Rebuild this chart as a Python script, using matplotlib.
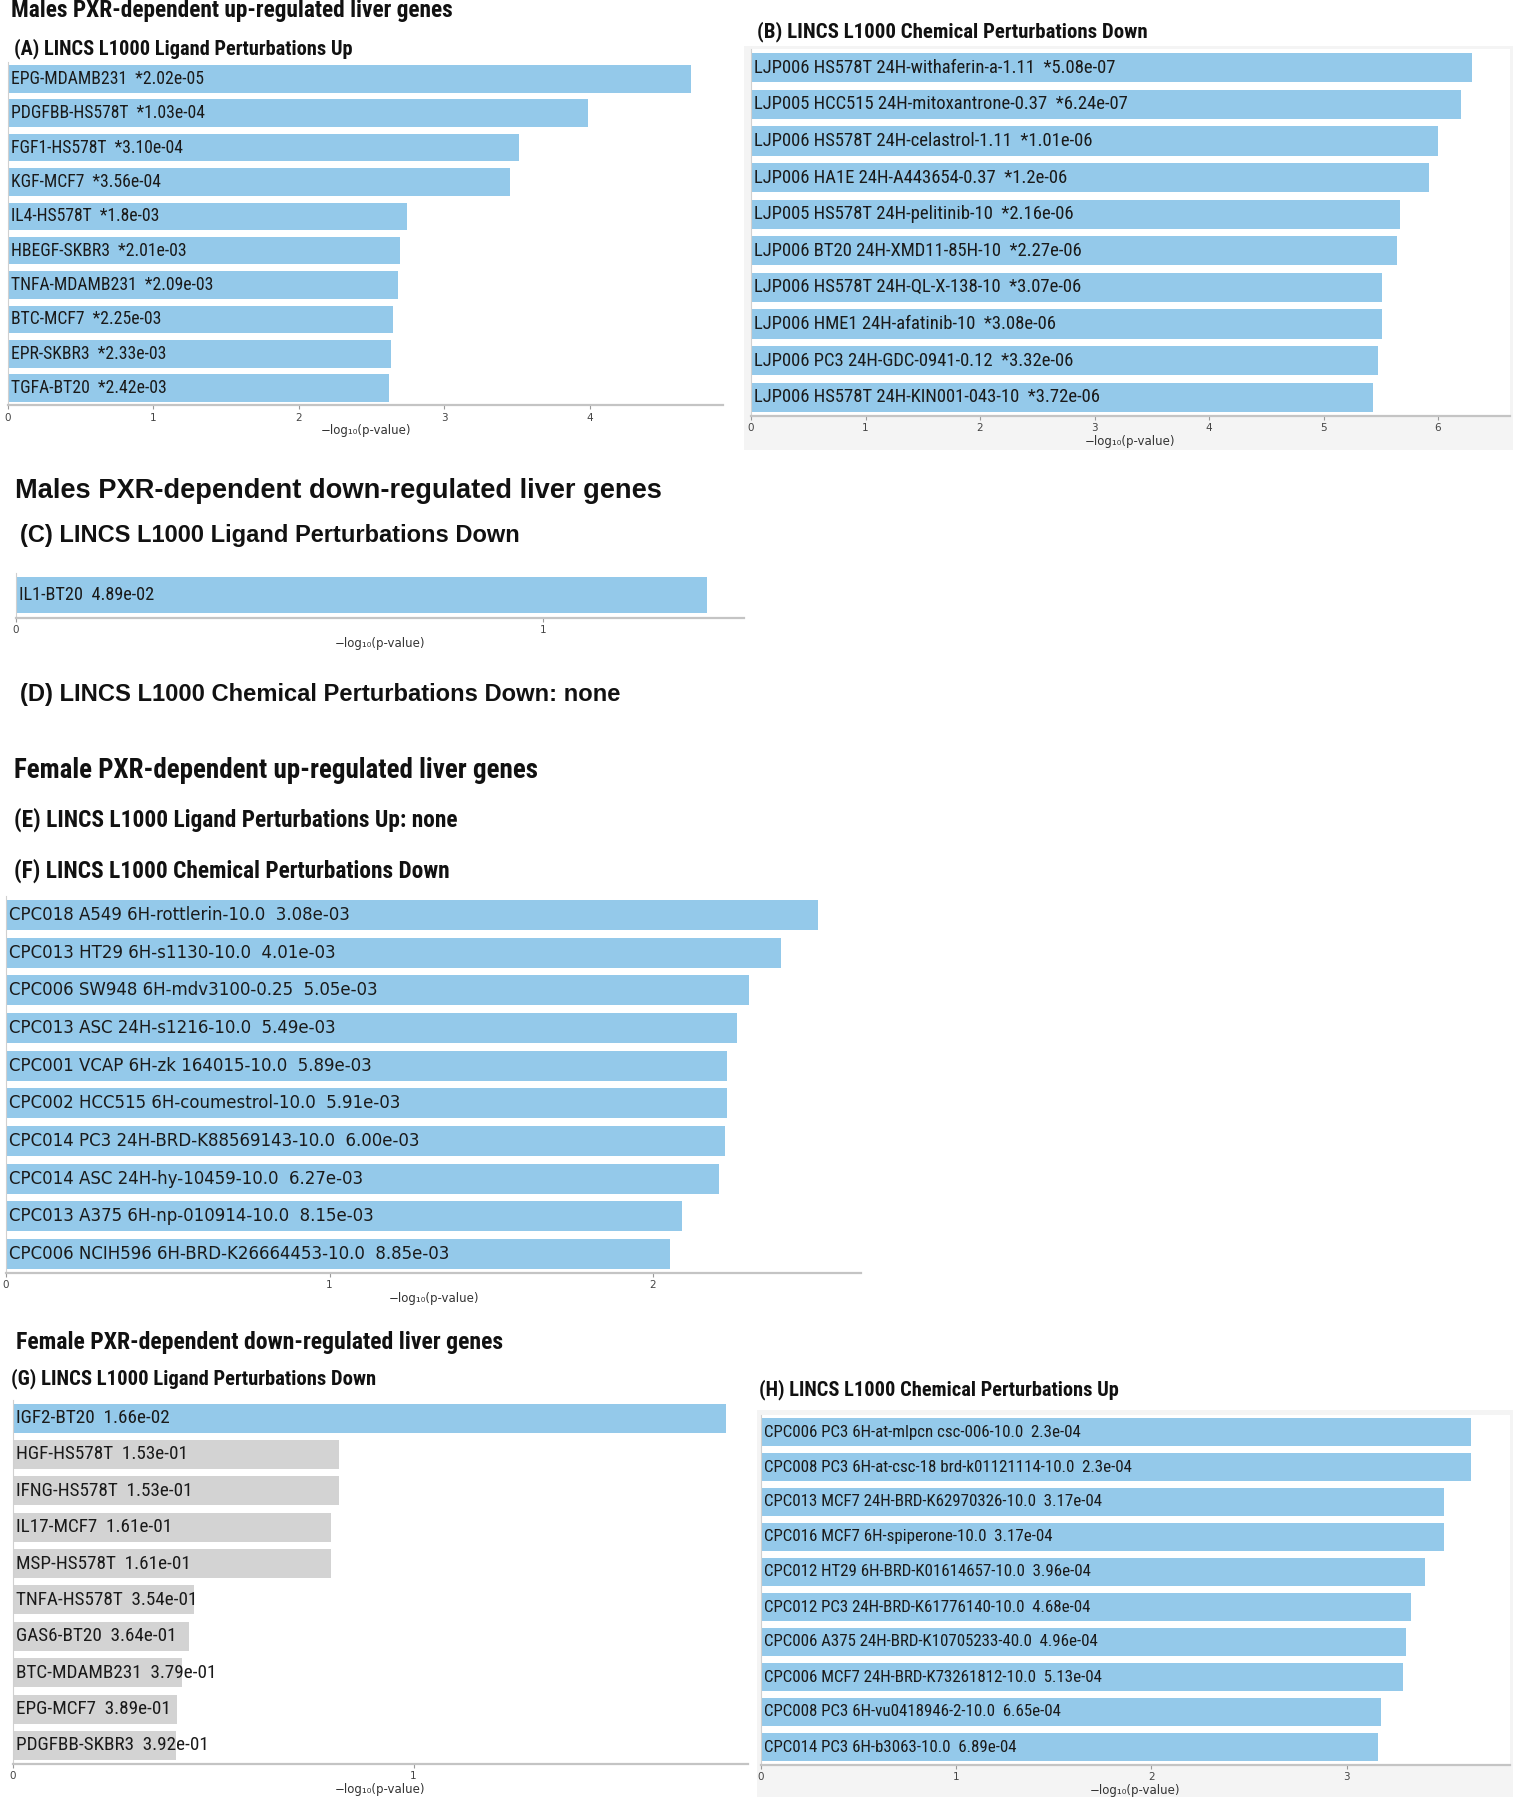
import matplotlib
matplotlib.use("Agg")
import matplotlib.pyplot as plt
from matplotlib import font_manager as fm
from matplotlib.patches import Rectangle

# ---------------- data ----------------
A_terms = ['EPG-MDAMB231', 'PDGFBB-HS578T', 'FGF1-HS578T', 'KGF-MCF7', 'IL4-HS578T',
           'HBEGF-SKBR3', 'TNFA-MDAMB231', 'BTC-MCF7', 'EPR-SKBR3', 'TGFA-BT20']
A_pvals = ['*2.02e-05', '*1.03e-04', '*3.10e-04', '*3.56e-04', '*1.8e-03',
           '*2.01e-03', '*2.09e-03', '*2.25e-03', '*2.33e-03', '*2.42e-03']
A_scores = [4.695, 3.987, 3.509, 3.449, 2.745, 2.697, 2.680, 2.648, 2.633, 2.616]

B_terms = ['LJP006 HS578T 24H-withaferin-a-1.11', 'LJP005 HCC515 24H-mitoxantrone-0.37',
           'LJP006 HS578T 24H-celastrol-1.11', 'LJP006 HA1E 24H-A443654-0.37',
           'LJP005 HS578T 24H-pelitinib-10', 'LJP006 BT20 24H-XMD11-85H-10',
           'LJP006 HS578T 24H-QL-X-138-10', 'LJP006 HME1 24H-afatinib-10',
           'LJP006 PC3 24H-GDC-0941-0.12', 'LJP006 HS578T 24H-KIN001-043-10']
B_pvals = ['*5.08e-07', '*6.24e-07', '*1.01e-06', '*1.2e-06', '*2.16e-06',
           '*2.27e-06', '*3.07e-06', '*3.08e-06', '*3.32e-06', '*3.72e-06']
B_scores = [6.294, 6.205, 5.996, 5.921, 5.666, 5.644, 5.513, 5.511, 5.479, 5.430]

C_terms = ['IL1-BT20']
C_pvals = ['4.89e-02']
C_scores = [1.311]

F_terms = ['CPC018 A549 6H-rottlerin-10.0', 'CPC013 HT29 6H-s1130-10.0',
           'CPC006 SW948 6H-mdv3100-0.25', 'CPC013 ASC 24H-s1216-10.0',
           'CPC001 VCAP 6H-zk 164015-10.0', 'CPC002 HCC515 6H-coumestrol-10.0',
           'CPC014 PC3 24H-BRD-K88569143-10.0', 'CPC014 ASC 24H-hy-10459-10.0',
           'CPC013 A375 6H-np-010914-10.0', 'CPC006 NCIH596 6H-BRD-K26664453-10.0']
F_pvals = ['3.08e-03', '4.01e-03', '5.05e-03', '5.49e-03', '5.89e-03',
           '5.91e-03', '6.00e-03', '6.27e-03', '8.15e-03', '8.85e-03']
F_scores = [2.511, 2.397, 2.297, 2.260, 2.230, 2.228, 2.222, 2.203, 2.089, 2.053]

G_terms = ['IGF2-BT20', 'HGF-HS578T', 'IFNG-HS578T', 'IL17-MCF7', 'MSP-HS578T',
           'TNFA-HS578T', 'GAS6-BT20', 'BTC-MDAMB231', 'EPG-MCF7', 'PDGFBB-SKBR3']
G_pvals = ['1.66e-02', '1.53e-01', '1.53e-01', '1.61e-01', '1.61e-01',
           '3.54e-01', '3.64e-01', '3.79e-01', '3.89e-01', '3.92e-01']
G_scores = [1.780, 0.815, 0.815, 0.793, 0.793, 0.451, 0.439, 0.421, 0.410, 0.407]
G_significant = [True, False, False, False, False, False, False, False, False, False]

H_terms = ['CPC006 PC3 6H-at-mlpcn csc-006-10.0', 'CPC008 PC3 6H-at-csc-18 brd-k01121114-10.0',
           'CPC013 MCF7 24H-BRD-K62970326-10.0', 'CPC016 MCF7 6H-spiperone-10.0',
           'CPC012 HT29 6H-BRD-K01614657-10.0', 'CPC012 PC3 24H-BRD-K61776140-10.0',
           'CPC006 A375 24H-BRD-K10705233-40.0', 'CPC006 MCF7 24H-BRD-K73261812-10.0',
           'CPC008 PC3 6H-vu0418946-2-10.0', 'CPC014 PC3 6H-b3063-10.0']
H_pvals = ['2.3e-04', '2.3e-04', '3.17e-04', '3.17e-04', '3.96e-04',
           '4.68e-04', '4.96e-04', '5.13e-04', '6.65e-04', '6.89e-04']
H_scores = [3.638, 3.638, 3.499, 3.499, 3.402, 3.330, 3.305, 3.290, 3.177, 3.162]

XLABEL = '\u2212log\u2081\u2080(p-value)'

# ---------------- fonts ----------------
names = {f.name for f in fm.fontManager.ttflist}


def condensed_props():
    for nm in ['DejaVu Sans Condensed', 'Liberation Sans Narrow', 'Roboto Condensed',
               'Open Sans Condensed']:
        if nm in names:
            return dict(family=[nm, 'DejaVu Sans'])
    dv = [f for f in fm.fontManager.ttflist
          if f.name == 'DejaVu Sans' and 'condensed' in str(f.stretch)]
    if dv:
        return dict(family=['DejaVu Sans'], fontstretch='condensed')
    return dict(family=['DejaVu Sans'])


def narrow_bold_props():
    for nm in ['Liberation Sans Narrow', 'Roboto Condensed', 'DejaVu Sans Condensed',
               'Open Sans Condensed']:
        if nm in names:
            return dict(family=[nm, 'DejaVu Sans'])
    return condensed_props()


COND = condensed_props()
NARROW = narrow_bold_props()
WIDE_BOLD = dict(family=['Liberation Sans', 'DejaVu Sans'])
REG = dict(family=['DejaVu Sans'])

W, H = 1516, 1800
fig = plt.figure(figsize=(W / 100, H / 100), dpi=100)
fig.patch.set_facecolor('white')
renderer = fig.canvas.get_renderer()


def fit_text(x, y, s, target_w, props, weight='normal', color='#111111'):
    t = fig.text(x / W, 1 - y / H, s, ha='left', va='center', fontsize=10,
                 fontweight=weight, color=color, **props)
    w = t.get_window_extent(renderer).width
    t.set_fontsize(10 * target_w / w)
    return t


def fit_size(s, target_w, props):
    t = fig.text(0, 0, s, fontsize=10, **props)
    w = t.get_window_extent(renderer).width
    t.remove()
    return 10 * target_w / w


def gray_box(x1, y1, x2, y2):
    bg = fig.add_axes([x1 / W, 1 - y2 / H, (x2 - x1) / W, (y2 - y1) / H], zorder=-5)
    bg.set_facecolor('#f4f4f4')
    for sp in bg.spines.values():
        sp.set_visible(False)
    bg.set_xticks([])
    bg.set_yticks([])
    return bg


def panel(terms, pvals, scores, x0, ppu, right, first_top, last_bottom,
          ticks, label_w, label_props, colors=None, tick_y_pad=2.5):
    n = len(terms)
    p = (last_bottom - first_top) / (n - 1 + 0.8)
    top = first_top - 0.1 * p
    bottom = top + n * p
    ax = fig.add_axes([x0 / W, 1 - bottom / H, (right - x0) / W, (bottom - top) / H],
                      zorder=1)
    ax.set_facecolor('white')
    if colors is None:
        colors = ['#94c9ea'] * n
    ypos = list(range(n))
    ax.barh(ypos, scores, height=0.8, color=colors, edgecolor='none', zorder=2)
    ax.set_xlim(0, (right - x0) / ppu)
    ax.set_ylim(n - 0.5, -0.5)
    ax.set_yticks([])
    ax.set_xticks(ticks)
    ax.set_xticklabels([str(t) for t in ticks])
    for sp in ['top', 'right']:
        ax.spines[sp].set_visible(False)
    ax.spines['bottom'].set_color('#c4c4c4')
    ax.spines['bottom'].set_linewidth(1.6)
    ax.spines['left'].set_color('#d0d0d0')
    ax.spines['left'].set_linewidth(0.8)
    ax.tick_params(axis='x', length=3, width=0.8, color='#999999', pad=tick_y_pad,
                   labelsize=7.5, labelcolor='#444444')
    ax.set_xlabel(XLABEL, fontsize=8.5, color='#333333', labelpad=1)
    fs = fit_size(terms[0] + '  ' + pvals[0], label_w, label_props)
    for i, (tm, pv) in enumerate(zip(terms, pvals)):
        ax.text(3 / ppu, i, tm + '  ' + pv, ha='left', va='center', fontsize=fs,
                color='#1a1a1a', zorder=3, **label_props)
    return ax


# ---------------- gray backgrounds for B and H ----------------
gray_box(744, 46, 1513, 450)
gray_box(757, 1410, 1513, 1797)

# ---------------- titles ----------------
fit_text(11, 10, 'Males PXR-dependent up-regulated liver genes', 443, NARROW, 'bold')
fit_text(14, 49, '(A) LINCS L1000 Ligand Perturbations Up', 339, NARROW, 'bold')
fit_text(757, 32, '(B) LINCS L1000 Chemical Perturbations Down', 391, NARROW, 'bold')
fit_text(15, 491, 'Males PXR-dependent down-regulated liver genes', 648, WIDE_BOLD, 'bold')
fit_text(20, 536, '(C) LINCS L1000 Ligand Perturbations Down', 498, WIDE_BOLD, 'bold')
fit_text(20, 694, '(D) LINCS L1000 Chemical Perturbations Down: none', 600, WIDE_BOLD, 'bold')
fit_text(14, 771, 'Female PXR-dependent up-regulated liver genes', 523, NARROW, 'bold')
fit_text(14, 820, '(E) LINCS L1000 Ligand Perturbations Up: none', 443, NARROW, 'bold')
fit_text(14, 871, '(F) LINCS L1000 Chemical Perturbations Down', 434, NARROW, 'bold')
fit_text(16, 1343, 'Female PXR-dependent down-regulated liver genes', 489, NARROW, 'bold')
fit_text(11, 1379, '(G) LINCS L1000 Ligand Perturbations Down', 365, NARROW, 'bold')
fit_text(759, 1390, '(H) LINCS L1000 Chemical Perturbations Up', 360, NARROW, 'bold')

# ---------------- panels ----------------
panel(A_terms, A_pvals, A_scores, 8, 145.5, 723, 65, 402, [0, 1, 2, 3, 4], 192, COND)
panel(B_terms, B_pvals, B_scores, 751, 114.5, 1510, 53, 412, [0, 1, 2, 3, 4, 5, 6], 361, COND)
panel(C_terms, C_pvals, C_scores, 16, 527, 744, 577, 613, [0, 1], 135, COND)
panel(F_terms, F_pvals, F_scores, 6, 323.5, 861, 900, 1269, [0, 1, 2], 341, REG)
G_colors = ['#94c9ea' if s else '#d3d3d3' for s in G_significant]
panel(G_terms, G_pvals, G_scores, 13, 400.5, 748, 1403.5, 1760, [0, 1], 152, COND,
      colors=G_colors)
panel(H_terms, H_pvals, H_scores, 761, 195.2, 1510, 1418, 1761, [0, 1, 2, 3], 316, COND)

fig.savefig('out.png', dpi=100, facecolor='white')
